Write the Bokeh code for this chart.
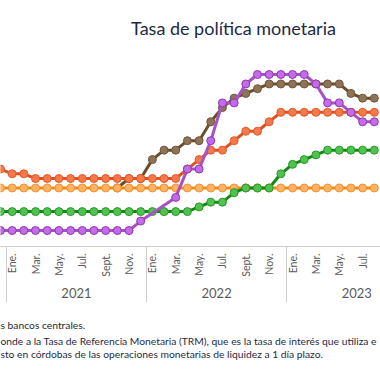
import math
from bokeh.plotting import figure
from bokeh.models import Range1d, LinearAxis, FixedTicker, Label, Title, ColumnDataSource
from bokeh.embed import file_html
from bokeh.resources import INLINE

# Months: index 0 = Dic. 2020 ... index 32 = Ago. 2023
month_idx = list(range(33))
month_ticks = [1, 3, 5, 7, 9, 11, 13, 15, 17, 19, 21, 23, 25, 27, 29, 31]
month_labels = ["Ene.", "Mar.", "May.", "Jul.", "Sept.", "Nov.",
                "Ene.", "Mar.", "May.", "Jul.", "Sept.", "Nov.",
                "Ene.", "Mar.", "May.", "Jul."]
year_centers = [6.5, 18.5, 30.5]
year_labels = ["2021", "2022", "2023"]
year_bounds = [0.5, 12.5, 24.5]

brown = [None, None, None, None, None, None, None, None, None, None,
         3.0, 3.5, 3.5, 4.5, 5.0, 5.0, 5.5, 5.5, 6.5, 7.25, 7.75, 8.0, 8.25,
         8.5, 8.5, 8.5, 8.5, 8.5, 8.5, 8.5, 8.0, 7.75, 7.75]
nicaragua = [4.0, 3.75, 3.75, 3.5, 3.5, 3.5, 3.5, 3.5, 3.5, 3.5, 3.5, 3.5, 3.5,
             3.5, 3.5, 3.5, 4.0, 4.5, 5.0, 5.0, 5.5, 6.0, 6.0, 6.5, 7.0,
             7.0, 7.0, 7.0, 7.0, 7.0, 7.0, 7.0, 7.0]
honduras = [3.0, 3.0, 3.0, 3.0, 3.0, 3.0, 3.0, 3.0, 3.0, 3.0, 3.0, 3.0, 3.0,
            3.0, 3.0, 3.0, 3.0, 3.0, 3.0, 3.0, 3.0, 3.0, 3.0, 3.0, 3.0,
            3.0, 3.0, 3.0, 3.0, 3.0, 3.0, 3.0, 3.0]
guatemala = [1.75, 1.75, 1.75, 1.75, 1.75, 1.75, 1.75, 1.75, 1.75, 1.75, 1.75,
             1.75, 1.75, 1.75, 1.75, 1.75, 1.75, 2.0, 2.25, 2.25, 2.75, 3.0,
             3.0, 3.0, 3.75, 4.25, 4.5, 4.75, 5.0, 5.0, 5.0, 5.0, 5.0]
costa_rica = [0.75, 0.75, 0.75, 0.75, 0.75, 0.75, 0.75, 0.75, 0.75, 0.75, 0.75,
              0.75, 1.25, None, None, 2.5, 4.0, 4.0, 5.5, 7.5, 7.5, 8.5, 9.0,
              9.0, 9.0, 9.0, 9.0, 8.5, 7.5, 7.5, 7.0, 6.5, 6.5]

note_1 = "s bancos centrales."
note_2 = ("onde a la Tasa de Referencia Monetaria (TRM), que es la tasa de interés que utiliza e\n"
          "sto en córdobas de las operaciones monetarias de liquidez a 1 día plazo.")

series = [
    (brown, "#6b4d26", "#8e7357", "#6e563c"),
    (nicaragua, "#e2501f", "#f7794a", "#dd5b2c"),
    (honduras, "#f28a0e", "#fcb163", "#ef9331"),
    (guatemala, "#108a10", "#4fc24f", "#2b972b"),
    (costa_rica, "#a752c6", "#c46aea", "#8c3aaa"),
]

FONT = "Lato"

p = figure(width=380, height=373, output_backend="svg", toolbar_location=None,
           x_axis_location=None, y_axis_location=None,
           min_border_left=0, min_border_right=0, min_border_top=0,
           min_border_bottom=127)
p.x_range = Range1d(0.0, 32.53)
p.y_range = Range1d(-0.095, 12.914)
p.outline_line_color = None
p.xgrid.visible = False
p.ygrid.visible = False
p.background_fill_color = "white"
p.border_fill_color = "white"

for vals, lc, fc, oc in series:
    xs = [m for m, v in zip(month_idx, vals) if v is not None]
    ys = [v for v in vals if v is not None]
    src = ColumnDataSource(dict(x=xs, y=ys))
    p.line("x", "y", source=src, line_color=lc, line_width=3)
    p.scatter("x", "y", source=src, size=8, fill_color=fc, line_color=oc,
              line_width=1)

# month axis (minor ticks = year separators)
ax1 = LinearAxis()
ax1.ticker = FixedTicker(ticks=month_ticks, minor_ticks=year_bounds)
ax1.major_label_overrides = {t: l for t, l in zip(month_ticks, month_labels)}
ax1.major_label_orientation = math.pi / 2
ax1.major_tick_line_color = None
ax1.major_tick_out = 0
ax1.major_tick_in = 0
ax1.minor_tick_out = 56
ax1.minor_tick_in = 0
ax1.minor_tick_line_color = "#cfcfcf"
ax1.axis_line_color = "#cfcfcf"
ax1.major_label_standoff = -49
ax1.major_label_text_font = FONT
ax1.major_label_text_font_size = "10.5px"
ax1.major_label_text_color = "#5a5a5a"
p.add_layout(ax1, "below")

# year axis
ax2 = LinearAxis()
ax2.ticker = FixedTicker(ticks=year_centers)
ax2.major_label_overrides = {t: l for t, l in zip(year_centers, year_labels)}
ax2.major_tick_line_color = None
ax2.major_tick_out = 0
ax2.major_tick_in = 0
ax2.axis_line_color = None
ax2.major_label_standoff = 8
ax2.major_label_text_font = FONT
ax2.major_label_text_font_size = "13px"
ax2.major_label_text_color = "#5a5a5a"
p.add_layout(ax2, "below")

# chart title
p.add_layout(Label(x=233, y=219, x_units="screen", y_units="screen",
                   text="Tasa de política monetaria", text_align="center",
                   text_baseline="alphabetic", text_font=FONT,
                   text_font_size="18px", text_color="#1c2a44"))

# spacer + footnotes
p.add_layout(Title(text=" ", standoff=2, text_font=FONT, text_font_size="10px"), "below")
p.add_layout(Title(text=note_1, align="left", offset=0, standoff=0,
                   text_font=FONT, text_font_size="10.3px",
                   text_font_style="normal", text_color="#2a2a2a"), "below")
p.add_layout(Title(text=note_2, align="left", offset=0, standoff=4,
                   text_font=FONT, text_font_size="10.3px", text_line_height=1.15,
                   text_font_style="normal", text_color="#1f2b45"), "below")

open("out.html", "w").write(file_html(p, INLINE))
